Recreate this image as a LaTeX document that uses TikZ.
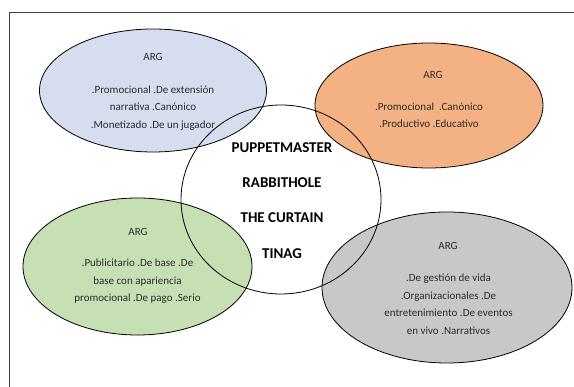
\documentclass[tikz,border=0pt]{standalone}
\usepackage{fontspec}
\setmainfont{Carlito}
\usetikzlibrary{shapes.geometric}
\definecolor{fblue}{HTML}{D6DDEF}
\definecolor{forange}{HTML}{F4B183}
\definecolor{fgreen}{HTML}{C6E0B4}
\definecolor{fgray}{HTML}{C8C8C8}
\definecolor{txt}{HTML}{2B2B2B}
\definecolor{frame}{HTML}{404040}
\begin{document}
\begin{tikzpicture}[x=1pt,y=-1pt,
  blob/.style={ellipse,draw=black,line width=0.8pt,inner sep=0pt},
  lbl/.style={text=txt,font=\fontsize{11}{17.5}\selectfont,align=center,inner sep=0pt},
  big/.style={text=black,font=\fontsize{15}{18}\selectfont\bfseries,inner sep=0pt}]
\useasboundingbox (0,0) rectangle (574,387);
\fill[white] (0,0) rectangle (574,387);
% frame (clipped on right and bottom)
\coordinate (fl) at (9,12);
\coordinate (fr) at (574,12);
\coordinate (fb) at (9,387);
\draw[frame,line width=0.8pt] (fr) -- (fl) -- (fb);
% ellipses
\node[blob,fill=fblue,minimum width=227pt,minimum height=123pt] (eb) at (153,90.5) {};
\node[blob,fill=forange,minimum width=228pt,minimum height=125pt] (eo) at (429,105.5) {};
\node[blob,fill=fgreen,minimum width=229pt,minimum height=137pt] (eg) at (137.5,266.5) {};
\node[blob,fill=fgray,minimum width=250pt,minimum height=151pt] (ey) at (447,287.5) {};
% central circle
\node[ellipse,draw=black,line width=0.8pt,inner sep=0pt,minimum width=200pt,minimum height=189pt] (cc) at (281,199.5) {};
% texts
\node[lbl] (ab) at (153,57) {ARG};
\node[lbl] (tb) at (153,108) {.Promocional .De extensión\\narrativa .Canónico\\.Monetizado .De un jugador};
\node[lbl] (ao) at (433,75) {ARG};
\node[lbl] (to) at (429,115) {.Promocional\ \ .Canónico\\.Productivo .Educativo};
\node[lbl] (ag) at (138,232) {ARG};
\node[lbl] (tg) at (137.5,281.5) {.Publicitario .De base .De\\base con apariencia\\promocional .De pago .Serio};
\node[lbl] (ay) at (448,246) {ARG};
\node[lbl] (ty) at (448.5,304) {.De gestión de vida\\.Organizacionales .De\\entretenimiento .De eventos\\en vivo .Narrativos};
\node[big] (p1) at (282,148) {PUPPETMASTER};
\node[big] (p2) at (282,183) {RABBITHOLE};
\node[big] (p3) at (282,218) {THE CURTAIN};
\node[big] (p4) at (282,254) {TINAG};
\end{tikzpicture}
\end{document}
